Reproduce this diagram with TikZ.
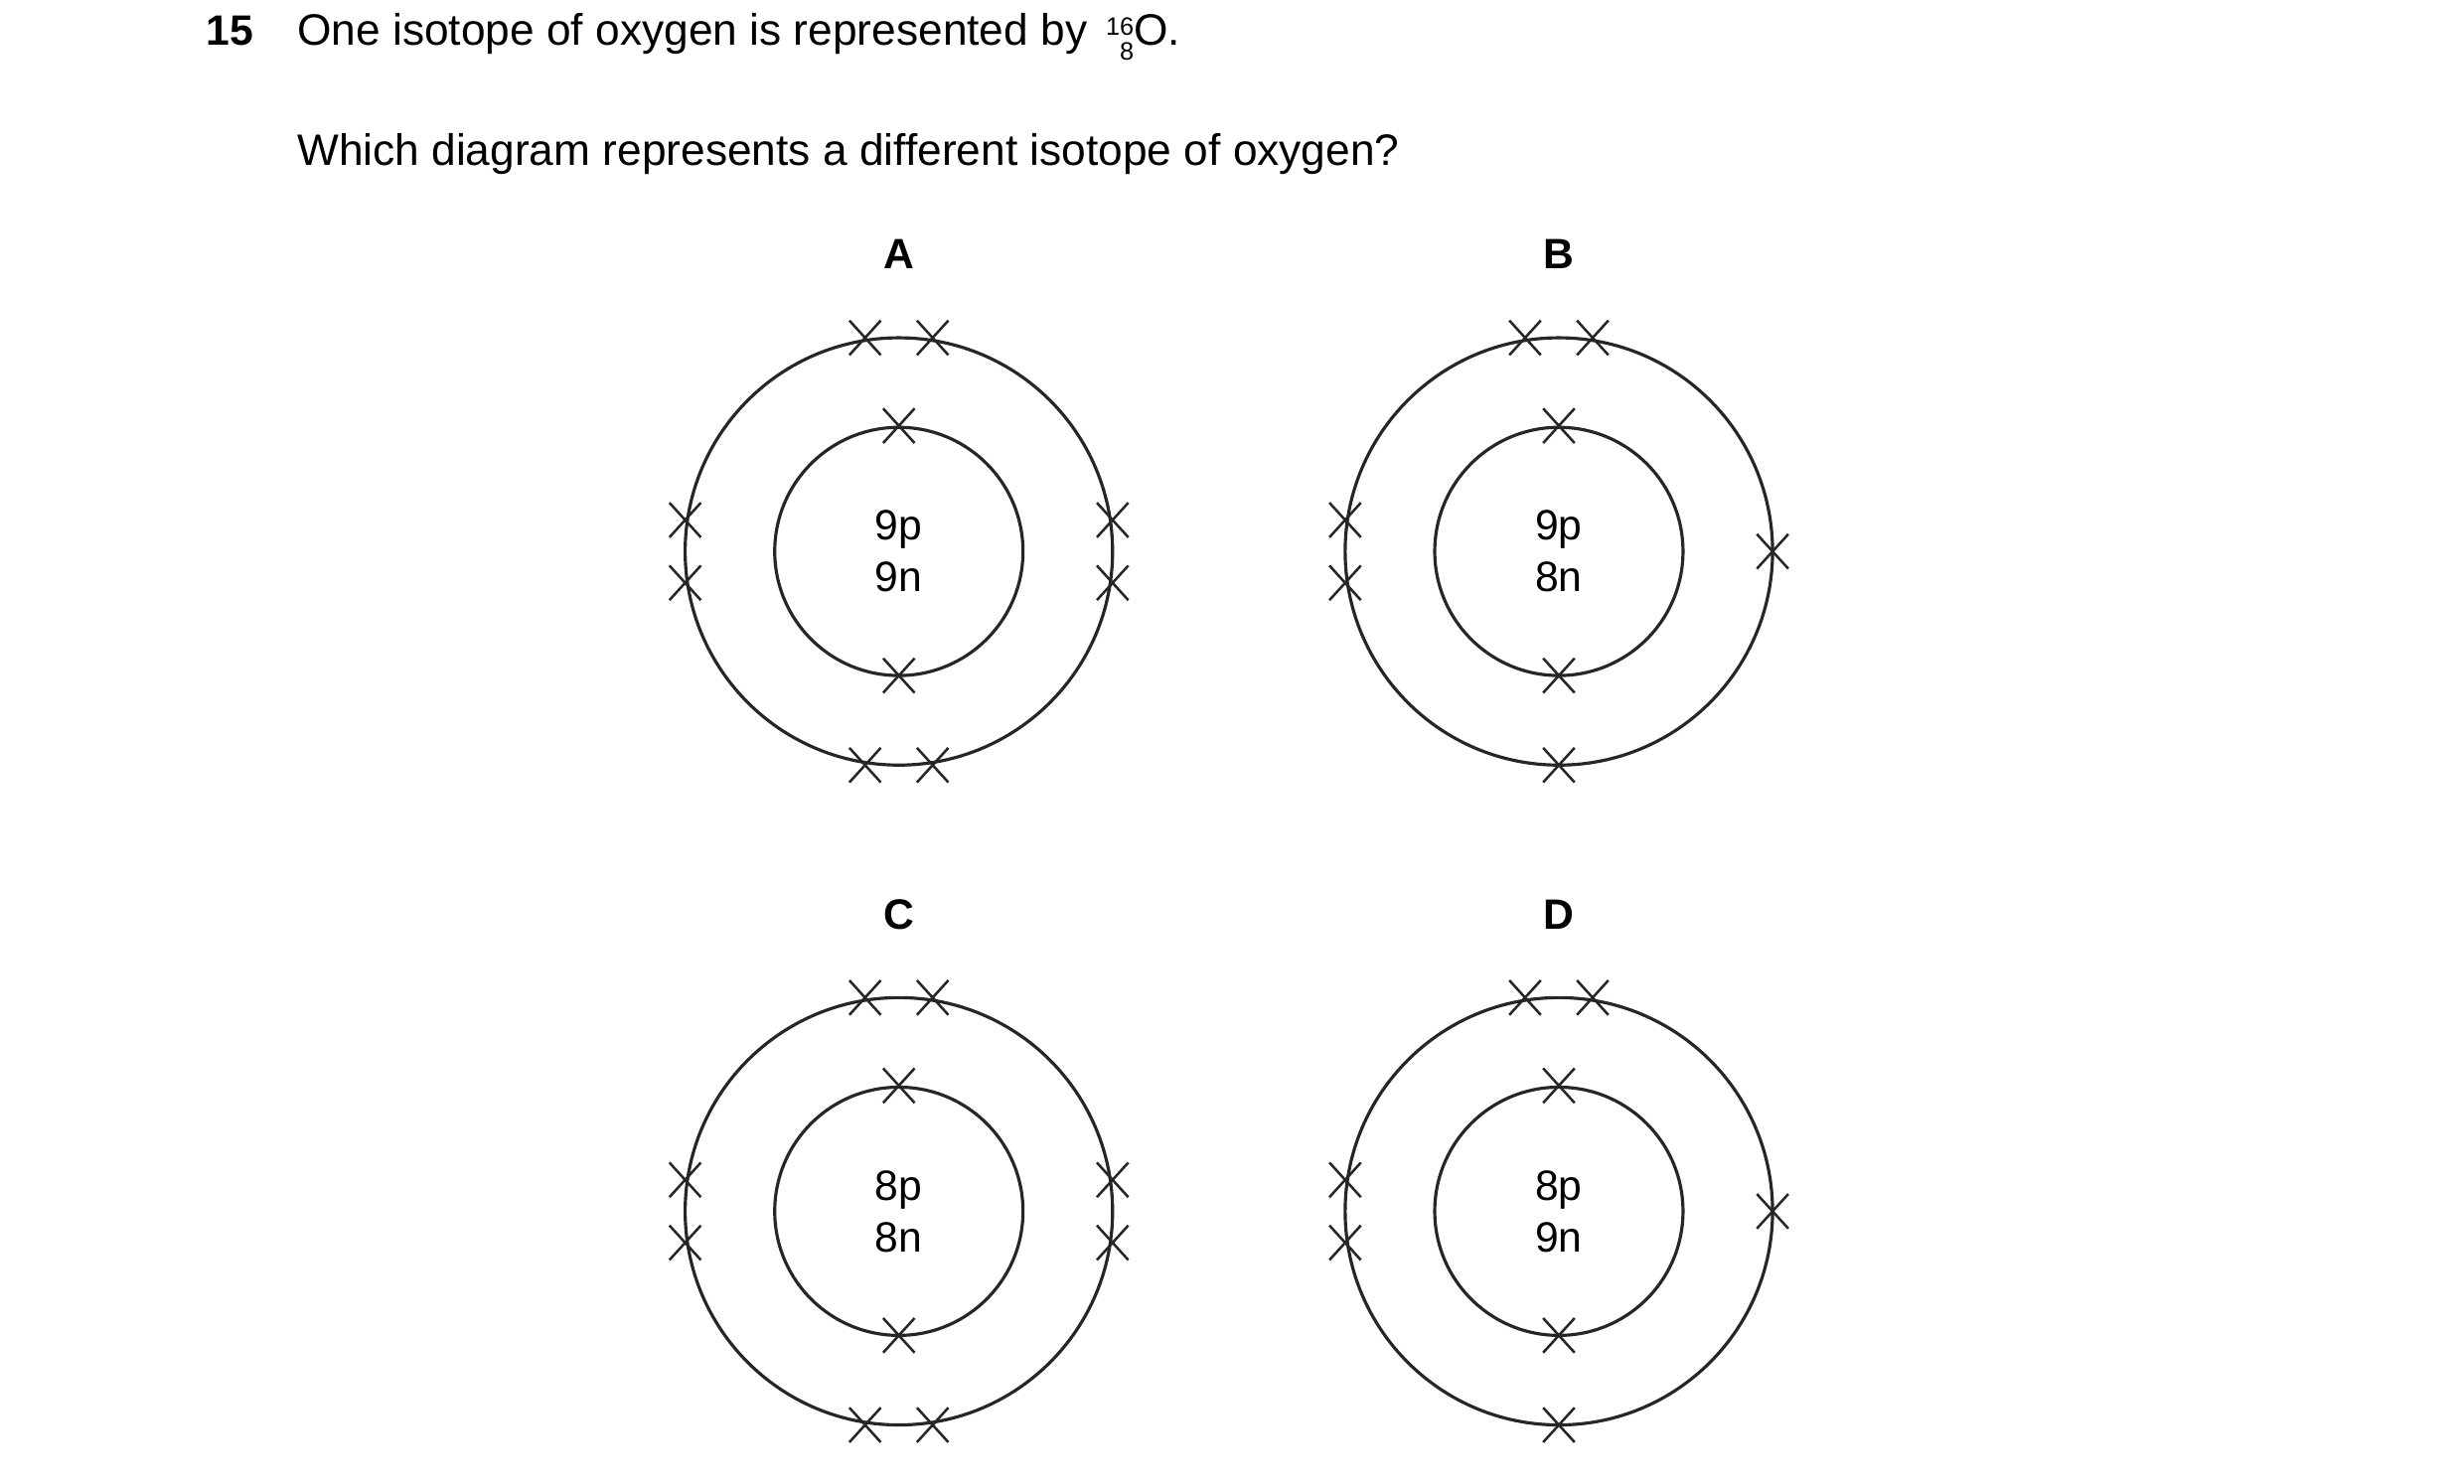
\documentclass[tikz,border=0pt]{standalone}
\usepackage{fontspec}
\setmainfont{Liberation Sans}
\begin{document}
\begin{tikzpicture}[x=1pt,y=-1pt,
  el/.style={draw=black!85,line width=1.6pt},
  txt/.style={font=\fontsize{28}{32}\selectfont,inner sep=0pt},
  lab/.style={font=\fontsize{27}{30}\selectfont\bfseries,inner sep=0pt}]
\useasboundingbox (0,0) rectangle (1568,944);
\node[lab,anchor=base west] (num) at (131,29) {15};
\node[txt,anchor=base west] (q1) at (189,29) {One isotope of oxygen is represented by \kern4pt\raisebox{-9pt}{\fontsize{16}{17}\selectfont\shortstack[r]{16\\[1pt]8}}\kern0pt O.};
\node[txt,anchor=base west] (q2) at (189,105) {Which diagram represents a different isotope of oxygen?};
\foreach \n/\cx/\cy/\p/\nn/\full in {A/572/351/9p/9n/1,B/992/351/9p/8n/0,C/572/771/8p/8n/1,D/992/771/8p/9n/0}{
  \node[lab] (lab\n) at (\cx,\cy-189) {\n};
  \node[draw=black!85,line width=2pt,circle,minimum size=272pt,inner sep=0pt] (out\n) at (\cx,\cy) {};
  \node[draw=black!85,line width=2pt,circle,minimum size=158pt,inner sep=0pt] (in\n) at (\cx,\cy) {};
  \node[txt,align=center,font=\fontsize{27}{33}\selectfont] (nuc\n) at (\cx,\cy) {\p\\\nn};
  \foreach \dx/\dy in {0/-80,0/79,-21.5/-136,21.5/-136,-136/-20,-136/20}{
    \draw[el] (\cx+\dx-10,\cy+\dy-11) -- ++(20,22) (\cx+\dx-10,\cy+\dy+11) -- ++(20,-22);}
  \ifnum\full=1
    \foreach \dx/\dy in {-21.5/136,21.5/136,136/-20,136/20}{
      \draw[el] (\cx+\dx-10,\cy+\dy-11) -- ++(20,22) (\cx+\dx-10,\cy+\dy+11) -- ++(20,-22);}
  \else
    \foreach \dx/\dy in {0/136,136/0}{
      \draw[el] (\cx+\dx-10,\cy+\dy-11) -- ++(20,22) (\cx+\dx-10,\cy+\dy+11) -- ++(20,-22);}
  \fi
}
\end{tikzpicture}
\end{document}
